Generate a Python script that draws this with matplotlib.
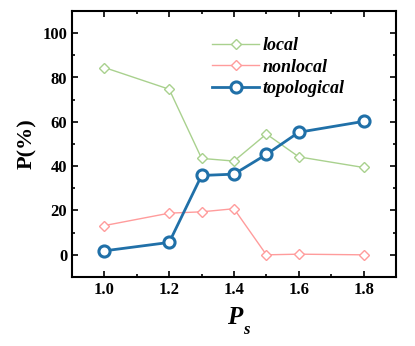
import matplotlib
matplotlib.use("Agg")
import matplotlib.pyplot as plt
from matplotlib.ticker import MultipleLocator

ps = [1.0, 1.2, 1.3, 1.4, 1.5, 1.6, 1.8]
local = [84.5, 74.7, 43.5, 42.3, 54.5, 44.2, 39.4]
nonlocal_ = [13.2, 18.8, 19.4, 20.8, 0.0, 0.3, 0.0]
topological = [1.8, 5.6, 35.8, 36.4, 45.3, 55.3, 60.2]

plt.rcParams['font.family'] = ['Liberation Serif', 'DejaVu Serif']
plt.rcParams['font.weight'] = 'bold'

fig = plt.figure(figsize=(4.15, 3.46), dpi=100)
ax = fig.add_axes([72/415, 1-277/346, (396-72)/415, (277-11)/346])

ax.plot(ps, local, color='#a9d18e', lw=1.0, marker='D', ms=5, mfc='white', mec='#a9d18e', mew=1.0, label='local')
ax.plot(ps, nonlocal_, color='#ff9c9c', lw=1.0, marker='D', ms=5, mfc='white', mec='#ff9c9c', mew=1.0, label='nonlocal')
ax.plot(ps, topological, color='#2070a8', lw=2.0, marker='o', ms=8, mfc='white', mec='#2070a8', mew=2.2, label='topological')

ax.set_xlim(0.9, 1.9)
ax.set_ylim(-10, 110)
ax.xaxis.set_minor_locator(MultipleLocator(0.1))
ax.yaxis.set_minor_locator(MultipleLocator(10))
ax.set_xticks([1.0, 1.2, 1.4, 1.6, 1.8])
ax.set_yticks([0, 20, 40, 60, 80, 100])
ax.tick_params(which='both', direction='in', top=True, right=True, labelsize=12, width=1.2)
ax.tick_params(which='major', length=4)
ax.tick_params(which='minor', length=2)
for lab in ax.get_xticklabels() + ax.get_yticklabels():
    lab.set_fontweight('bold')
for s in ax.spines.values():
    s.set_linewidth(1.5)

ax.set_ylabel('P(%)', fontsize=16, fontweight='bold', labelpad=4)
fig.text(235/415, 1-317/346, 'P', fontsize=18, fontweight='bold', style='italic', ha='center', va='center')
fig.text(246/415, 1-330/346, 's', fontsize=12, fontweight='bold', style='italic', ha='center', va='center')

leg = ax.legend(loc='upper left', bbox_to_anchor=(133/324, 1-19/266), frameon=False,
                prop={'family': 'Liberation Serif', 'weight': 'bold', 'style': 'italic', 'size': 13},
                handlelength=2.6, handletextpad=0.2, labelspacing=0.25, borderaxespad=0)

fig.savefig('out.png', dpi=100)
